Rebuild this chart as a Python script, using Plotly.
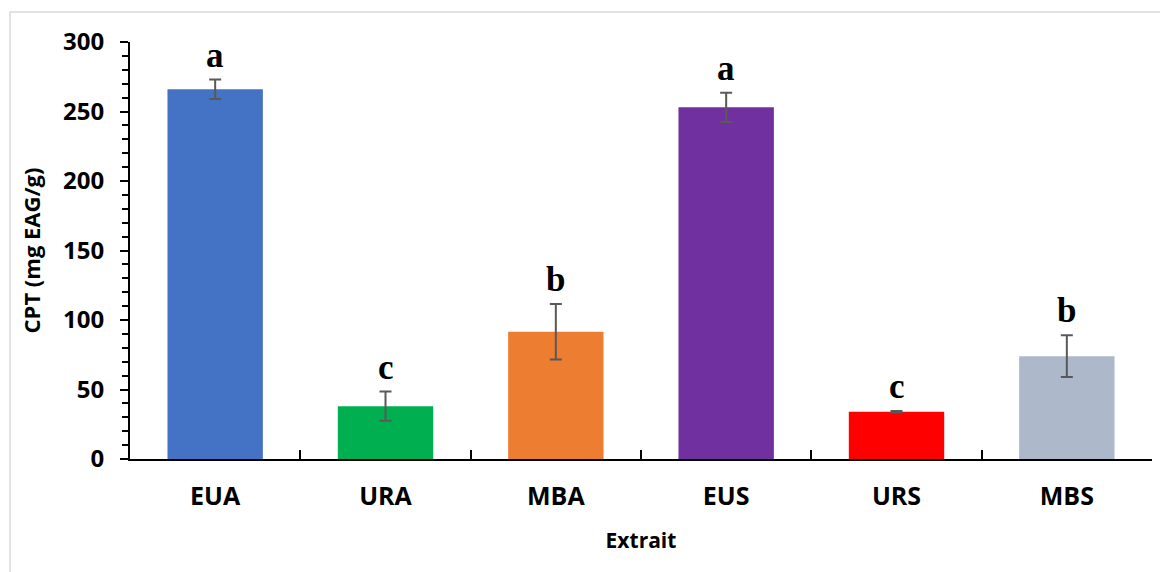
import plotly.graph_objects as go

categories = ["EUA", "URA", "MBA", "EUS", "URS", "MBS"]
values = [266, 38, 91.5, 253, 34, 74]
errors = [7, 10.5, 20, 10.5, 0.5, 15]
letters = ["a", "c", "b", "a", "c", "b"]
colors = ["#4472C4", "#00B050", "#ED7D31", "#7030A0", "#FF0000", "#ADB9CA"]

fig = go.Figure()
fig.add_trace(go.Bar(
    x=categories, y=values,
    marker=dict(color=colors, line=dict(width=0)),
    error_y=dict(type="data", array=errors, visible=True,
                 color="#595959", thickness=2, width=6),
    width=0.56,
))

for c, v, e, l in zip(categories, values, errors, letters):
    fig.add_annotation(x=c, y=v + e, text="<b>%s</b>" % l, showarrow=False,
                       yanchor="bottom", yshift=3,
                       font=dict(family="Liberation Serif", size=35, color="black"))

fig.add_shape(type="rect", xref="paper", yref="paper",
              x0=-0.1174, x1=1.0147, y0=-0.5, y1=1.0719,
              line=dict(color="#d9d9d9", width=1.5), layer="below")

fig.update_layout(
    width=1160, height=564,
    margin=dict(l=122, r=16, t=34, b=113),
    plot_bgcolor="white", paper_bgcolor="white",
    showlegend=False,
    font=dict(family="Open Sans", color="black"),
    xaxis=dict(
        showline=True, linecolor="black", linewidth=2,
        ticks="inside", tickson="boundaries", ticklen=9, tickwidth=2, tickcolor="black",
        tickfont=dict(family="Open Sans", size=25, color="black", weight="bold"),
        ticklabelstandoff=14,
        title=dict(text="Extrait", font=dict(family="Open Sans", size=21, weight="bold"),
                   standoff=22),
        showgrid=False,
    ),
    yaxis=dict(
        range=[0, 300], dtick=50,
        showline=True, linecolor="black", linewidth=2,
        ticks="outside", ticklen=8, tickwidth=2, tickcolor="black",
        minor=dict(dtick=10, ticks="outside", ticklen=6, tickwidth=1.5, tickcolor="black"),
        tickfont=dict(family="Open Sans", size=24, color="black", weight="bold"),
        ticklabelstandoff=11,
        title=dict(text="CPT (mg EAG/g)", font=dict(family="Open Sans", size=22, weight="bold"),
                   standoff=16),
        showgrid=False, zeroline=False,
    ),
)

fig.write_html("out.html")
